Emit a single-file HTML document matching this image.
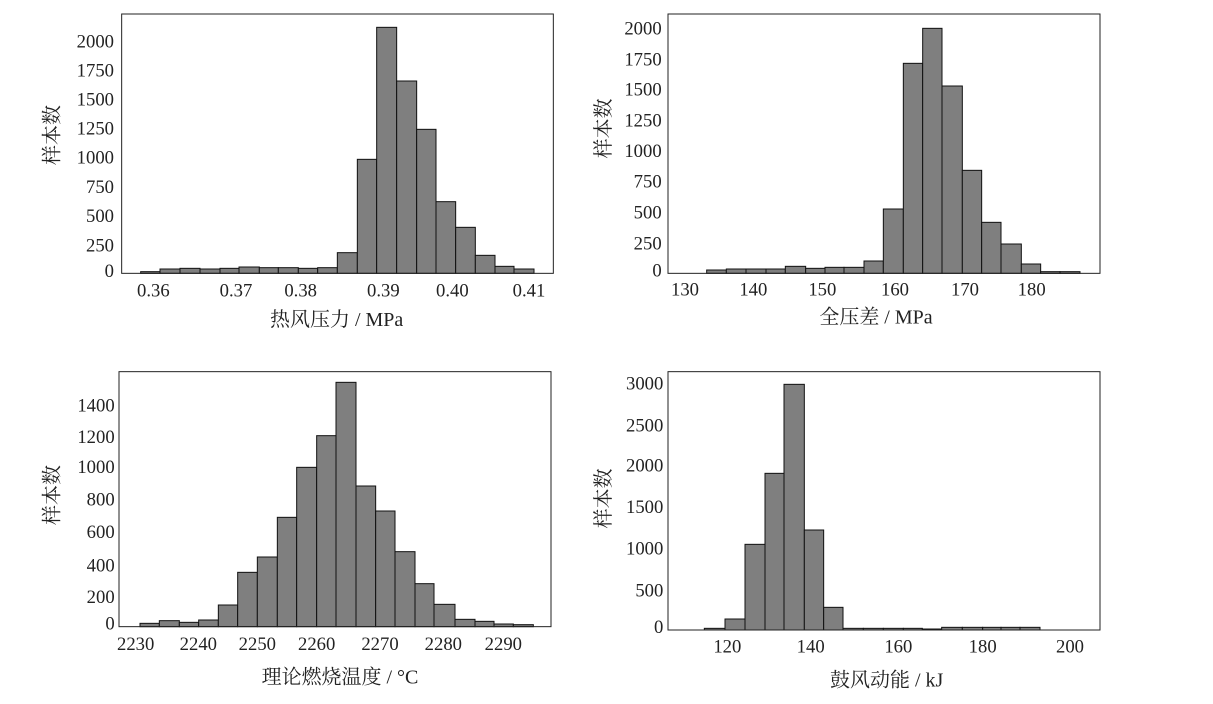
<!DOCTYPE html>
<html><head><meta charset="utf-8"><style>
html,body{margin:0;padding:0;background:#fff;}
svg{display:block;}
text{font-family:"Liberation Serif","Noto Serif CJK SC",serif;fill:#222;}
.t{font-size:56px;}
.a{font-size:60px;}
</style></head><body>
<svg width="1213" height="704" viewBox="0 0 1213 704" xmlns="http://www.w3.org/2000/svg">
<g id="p1" transform="translate(40,10) scale(0.3333333)">
<rect x="245" y="12" width="1295" height="778" fill="none" stroke="#222" stroke-width="3"/>
<g class="t" text-anchor="end">
<text x="222" y="112">2000</text><text x="222" y="199">1750</text><text x="222" y="287">1500</text><text x="222" y="374">1250</text><text x="222" y="461">1000</text><text x="222" y="549">750</text><text x="222" y="636">500</text><text x="222" y="724">250</text><text x="222" y="801">0</text>
</g>
<g class="t" text-anchor="middle">
<text x="340" y="859">0.36</text><text x="588" y="859">0.37</text><text x="782" y="859">0.38</text><text x="1030" y="859">0.39</text><text x="1237" y="859">0.40</text><text x="1467" y="859">0.41</text>
</g>
<g class="a" text-anchor="middle">
<text x="890" y="948">热风压力 / MPa</text>
<text transform="translate(55,375) rotate(-90)">样本数</text>
</g>
</g>
<g id="p2" transform="translate(590,10) scale(0.3333333)">
<rect x="234" y="12" width="1296" height="778" fill="none" stroke="#222" stroke-width="3"/>
<g class="t" text-anchor="end">
<text x="215" y="74">2000</text><text x="215" y="166">1750</text><text x="215" y="257">1500</text><text x="215" y="349">1250</text><text x="215" y="441">1000</text><text x="215" y="533">750</text><text x="215" y="626">500</text><text x="215" y="719">250</text><text x="215" y="799">0</text>
</g>
<g class="t" text-anchor="middle">
<text x="285" y="857">130</text><text x="490" y="857">140</text><text x="697" y="857">150</text><text x="915" y="857">160</text><text x="1125" y="857">170</text><text x="1325" y="857">180</text>
</g>
<g class="a" text-anchor="middle">
<text x="858" y="940">全压差 / MPa</text>
<text transform="translate(60,355) rotate(-90)">样本数</text>
</g>
</g>
<g id="p3" transform="translate(40,365) scale(0.3333333)">
<rect x="237" y="20" width="1296" height="765" fill="none" stroke="#222" stroke-width="3"/>
<g class="t" text-anchor="end">
<text x="224" y="139">1400</text><text x="224" y="234">1200</text><text x="224" y="324">1000</text><text x="224" y="422">800</text><text x="224" y="519">600</text><text x="224" y="619">400</text><text x="224" y="714">200</text><text x="224" y="794">0</text>
</g>
<g class="t" text-anchor="middle">
<text x="287" y="855">2230</text><text x="475" y="855">2240</text><text x="652" y="855">2250</text><text x="830" y="855">2260</text><text x="1020" y="855">2270</text><text x="1210" y="855">2280</text><text x="1390" y="855">2290</text>
</g>
<g class="a" text-anchor="middle">
<text x="900" y="955">理论燃烧温度 / °C</text>
<text transform="translate(55,390) rotate(-90)">样本数</text>
</g>
</g>
<g id="p4" transform="translate(590,365) scale(0.3333333)">
<rect x="234" y="20" width="1296" height="775" fill="none" stroke="#222" stroke-width="3"/>
<g class="t" text-anchor="end">
<text x="220" y="74">3000</text><text x="220" y="199">2500</text><text x="220" y="319">2000</text><text x="220" y="444">1500</text><text x="220" y="569">1000</text><text x="220" y="694">500</text><text x="220" y="804">0</text>
</g>
<g class="t" text-anchor="middle">
<text x="412" y="862">120</text><text x="662" y="862">140</text><text x="925" y="862">160</text><text x="1178" y="862">180</text><text x="1440" y="862">200</text>
</g>
<g class="a" text-anchor="middle">
<text x="890" y="965">鼓风动能 / kJ</text>
<text transform="translate(60,400) rotate(-90)">样本数</text>
</g>
</g>
</svg>
<script>
function bars(id,edges,tops,base){
  var g=document.getElementById(id),ns="http://www.w3.org/2000/svg";
  var grp=document.createElementNS(ns,"g");
  for(var i=0;i<tops.length;i++){
    var r=document.createElementNS(ns,"rect");
    r.setAttribute("x",edges[i]);r.setAttribute("y",tops[i]);
    r.setAttribute("width",edges[i+1]-edges[i]);r.setAttribute("height",Math.max(base-tops[i],1));
    r.setAttribute("fill","#7f7f7f");r.setAttribute("stroke","#111");r.setAttribute("stroke-width","3");
    grp.appendChild(r);
  }
  g.insertBefore(grp,g.firstChild.nextSibling);
}
bars("p1",[302,360,420,480,540,597,658,715,775,833,892,952,1010,1070,1130,1188,1247,1306,1365,1422,1482],
 [785,777,775,777,775,771,773,773,775,773,728,448,52,213,358,575,652,736,769,777],790);
bars("p2",[350,409,468,528,586,647,705,762,822,880,940,998,1056,1117,1175,1233,1294,1352,1410,1470],
 [780,777,777,777,769,775,772,772,753,597,160,55,228,481,637,702,762,785,785],790);
bars("p3",[300,358,418,476,535,593,652,712,770,830,888,948,1007,1065,1125,1182,1245,1305,1362,1420,1480],
 [775,767,772,765,720,622,576,457,307,212,52,363,438,560,656,718,763,769,777,779],785);
bars("p4",[343,405,465,525,582,643,701,759,820,880,940,997,1055,1117,1178,1233,1290,1350],
 [790,762,538,325,58,495,727,790,790,790,790,792,787,787,787,787,787],795);
</script>
</body></html>
